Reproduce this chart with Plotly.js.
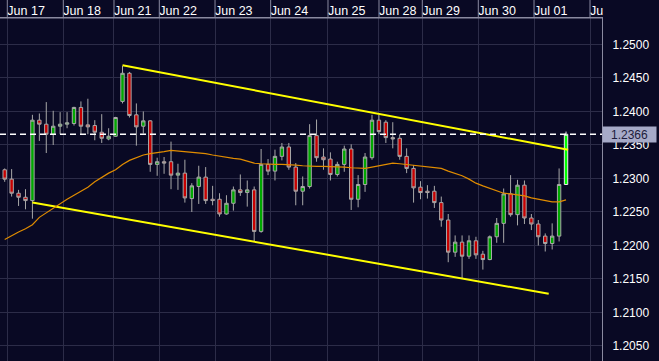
<!DOCTYPE html>
<html><head><meta charset="utf-8">
<script src="https://cdn.plot.ly/plotly-3.0.1.min.js"></script>
<style>html,body{margin:0;padding:0;background:#090924;} #chart{width:659px;height:361px;}</style>
</head><body><div id="chart"></div>
<script>
// 3-hour candles, EUR/USD style quotes
const opens = [1.2313,1.2299,1.2278,1.2272,1.2267,1.2387,1.2381,1.2366,1.2378,1.2381,
1.2382,1.2406,1.2380,1.2379,1.2369,1.2359,1.2363,1.2415,1.2457,1.2395,
1.2378,1.2386,1.2321,1.2325,1.2325,1.2305,1.2308,1.2270,1.2288,1.2302,
1.2269,1.2269,1.2247,1.2263,1.2283,1.2279,1.2283,1.2221,1.2321,1.2311,
1.2333,1.2347,1.2317,1.2281,1.2288,1.2364,1.2332,1.2329,1.2306,1.2321,
1.2344,1.2269,1.2291,1.2331,1.2387,1.2384,1.2361,1.2360,1.2333,1.2315,
1.2287,1.2281,1.2281,1.2264,1.2238,1.2190,1.2205,1.2184,1.2207,1.2187,
1.2179,1.2213,1.2233,1.2277,1.2246,1.2290,1.2241,1.2232,1.2214,1.2203,
1.2214,1.2291];
const highs = [1.2315,1.2314,1.2283,1.2284,1.2395,1.2397,1.2414,1.2401,1.2399,1.2399,
1.2407,1.2415,1.2419,1.2387,1.2396,1.2375,1.2392,1.2468,1.2459,1.2412,
1.2400,1.2387,1.2331,1.2332,1.2355,1.2322,1.2328,1.2293,1.2319,1.2317,
1.2289,1.2278,1.2275,1.2288,1.2306,1.2297,1.2288,1.2344,1.2329,1.2343,
1.2353,1.2353,1.2323,1.2303,1.2381,1.2388,1.2345,1.2339,1.2325,1.2349,
1.2351,1.2305,1.2338,1.2395,1.2395,1.2387,1.2384,1.2366,1.2345,1.2320,
1.2296,1.2290,1.2289,1.2273,1.2247,1.2215,1.2215,1.2215,1.2213,1.2192,
1.2215,1.2241,1.2285,1.2305,1.2298,1.2297,1.2247,1.2238,1.2218,1.2233,
1.2315,1.2370];
const lows = [1.2295,1.2273,1.2259,1.2254,1.2240,1.2356,1.2338,1.2350,1.2366,1.2375,
1.2379,1.2366,1.2366,1.2357,1.2353,1.2357,1.2362,1.2412,1.2391,1.2349,
1.2367,1.2310,1.2304,1.2307,1.2284,1.2283,1.2264,1.2250,1.2262,1.2262,
1.2260,1.2243,1.2246,1.2252,1.2274,1.2258,1.2206,1.2219,1.2305,1.2297,
1.2327,1.2313,1.2260,1.2260,1.2285,1.2325,1.2313,1.2297,1.2303,1.2310,
1.2253,1.2257,1.2280,1.2328,1.2366,1.2353,1.2345,1.2328,1.2308,1.2264,
1.2269,1.2270,1.2256,1.2228,1.2175,1.2183,1.2151,1.2180,1.2180,1.2164,
1.2178,1.2204,1.2204,1.2243,1.2230,1.2232,1.2223,1.2200,1.2191,1.2194,
1.2206,1.2291];
const closes = [1.2299,1.2278,1.2272,1.2267,1.2387,1.2381,1.2366,1.2378,1.2381,1.2383,
1.2406,1.2378,1.2377,1.2369,1.2360,1.2363,1.2391,1.2457,1.2394,1.2377,
1.2386,1.2321,1.2325,1.2323,1.2305,1.2308,1.2271,1.2289,1.2302,1.2267,
1.2267,1.2247,1.2263,1.2283,1.2279,1.2283,1.2221,1.2321,1.2311,1.2333,
1.2347,1.2317,1.2281,1.2288,1.2364,1.2331,1.2328,1.2306,1.2321,1.2344,
1.2269,1.2291,1.2332,1.2387,1.2370,1.2361,1.2359,1.2333,1.2315,1.2286,
1.2279,1.2279,1.2264,1.2238,1.2190,1.2205,1.2184,1.2207,1.2186,1.2179,
1.2213,1.2233,1.2277,1.2246,1.2290,1.2241,1.2232,1.2213,1.2203,1.2214,
1.2291,1.2366];
const movingAvg = [1.2209,1.2215,1.2220,1.2225,1.2231,1.2242,1.2249,1.2256,1.2262,1.2269,
1.2275,1.2281,1.2287,1.2295,1.2302,1.2308,1.2313,1.2321,1.2327,1.2331,
1.2335,1.2337,1.2338,1.2340,1.2342,1.2341,1.2341,1.2340,1.2339,1.2337,
1.2335,1.2333,1.2331,1.2330,1.2329,1.2326,1.2323,1.2322,1.2321,1.2321,
1.2321,1.2321,1.2320,1.2319,1.2318,1.2318,1.2318,1.2318,1.2317,1.2317,
1.2316,1.2316,1.2315,1.2317,1.2319,1.2321,1.2323,1.2322,1.2321,1.2320,
1.2319,1.2317,1.2316,1.2315,1.2311,1.2308,1.2304,1.2299,1.2293,1.2289,
1.2285,1.2281,1.2278,1.2277,1.2276,1.2274,1.2271,1.2269,1.2266,1.2265,
1.2265,1.2268];
const upperTrendX = [17, 81.3];
const upperTrendY = [1.2469, 1.2343];
const lowerTrendX = [4, 78.5];
const lowerTrendY = [1.2264, 1.2128];
const currentPrice = 1.2366;
const dayTickVals = [0.375, 8.456, 15.77, 22.31, 30.35, 38.38, 46.65, 54.01, 60.26, 68.34, 76.38, 84.46];
const dayTickText = ['Jun 17','Jun 18','Jun 21','Jun 22','Jun 23','Jun 24','Jun 25','Jun 28','Jun 29','Jun 30','Jul 01','Ju'];
const priceTickVals = [1.205,1.210,1.215,1.220,1.225,1.230,1.235,1.240,1.245,1.250];

const BG = '#090924';
const GRID = '#2c2c48';
const AXL = '#8a8aa0';
const FONT = 'Liberation Sans, Arial, sans-serif';

const n = opens.length;
const idx = opens.map((_, i) => i);
const xRange = [-0.678, 86.19];
const bandTop = 1 + 18 / 343;

const candles = {
  type: 'candlestick', xaxis: 'x', yaxis: 'y',
  x: idx.slice(0, n - 1), open: opens.slice(0, n - 1), high: highs.slice(0, n - 1),
  low: lows.slice(0, n - 1), close: closes.slice(0, n - 1),
  increasing: {line: {color: '#a8a8a8', width: 1}, fillcolor: '#00a800'},
  decreasing: {line: {color: '#a8a8a8', width: 1}, fillcolor: '#c80000'},
  whiskerwidth: 0, hoverinfo: 'skip'
};
const lastCandle = {
  type: 'candlestick', xaxis: 'x', yaxis: 'y',
  x: idx.slice(n - 1), open: opens.slice(n - 1), high: highs.slice(n - 1),
  low: lows.slice(n - 1), close: closes.slice(n - 1),
  increasing: {line: {color: '#e8e8e8', width: 1}, fillcolor: '#00ff00'},
  decreasing: {line: {color: '#e8e8e8', width: 1}, fillcolor: '#00ff00'},
  whiskerwidth: 0, hoverinfo: 'skip'
};
const ma = {
  type: 'scatter', mode: 'lines', xaxis: 'x2', yaxis: 'y',
  x: idx, y: movingAvg, line: {color: '#e08c00', width: 1.2}, hoverinfo: 'skip'
};
const upper = {
  type: 'scatter', mode: 'lines', x: upperTrendX, y: upperTrendY,
  line: {color: '#ffff00', width: 2}, hoverinfo: 'skip'
};
const lower = {
  type: 'scatter', mode: 'lines', x: lowerTrendX, y: lowerTrendY,
  line: {color: '#ffff00', width: 2}, hoverinfo: 'skip'
};

// day separators in the date band above the plot
const separators = dayTickVals.map(v => ({
  type: 'line', xref: 'x', yref: 'paper', x0: v, x1: v, y0: 1, y1: bandTop,
  line: {color: AXL, width: 1}
}));

const layout = {
  width: 659, height: 361,
  margin: {l: 0, r: 57, t: 18, b: 0, pad: 0},
  paper_bgcolor: BG, plot_bgcolor: BG,
  showlegend: false,
  font: {family: FONT, color: '#ffffff', size: 12},
  xaxis: {
    range: xRange, side: 'top', tickvals: dayTickVals, ticktext: dayTickText,
    showticklabels: false, ticks: '',
    showgrid: true, gridcolor: GRID, gridwidth: 1, zeroline: false,
    showline: true, linecolor: AXL, linewidth: 1,
    rangeslider: {visible: false}, fixedrange: true
  },
  xaxis2: {
    range: xRange, side: 'top', overlaying: 'x', tickvals: dayTickVals, ticktext: dayTickText,
    ticks: '', tickangle: 0, showgrid: false, zeroline: false, showline: false,
    ticklabelposition: 'outside right',
    tickfont: {family: FONT, color: '#ffffff', size: 12.5}, fixedrange: true
  },
  yaxis: {
    side: 'right', range: [1.20276, 1.25395], tickvals: priceTickVals, tickformat: '.4f',
    ticks: 'outside', ticklen: 7, tickcolor: BG,
    showgrid: true, gridcolor: GRID, gridwidth: 1, zeroline: false,
    showline: true, linecolor: AXL, linewidth: 1,
    tickfont: {family: FONT, color: '#ffffff', size: 12}, fixedrange: true
  },
  shapes: separators.concat([{
    type: 'line', xref: 'paper', x0: 0, x1: 1, yref: 'y', y0: currentPrice, y1: currentPrice,
    line: {color: '#ffffff', width: 1.5, dash: '6px,4px'}
  }, {
    type: 'line', xref: 'paper', x0: 0, x1: 1, yref: 'paper', y0: 1, y1: 1,
    line: {color: AXL, width: 1}
  }]),
  annotations: [{
    xref: 'paper', x: 1, xanchor: 'left', yref: 'y', y: currentPrice, yanchor: 'middle',
    text: currentPrice.toFixed(4), showarrow: false, bgcolor: '#a6aac8', borderpad: 0,
    width: 53, height: 15, align: 'center',
    font: {family: FONT, color: '#1c1c3c', size: 12}
  }]
};

Plotly.newPlot('chart', [candles, lastCandle, ma, upper, lower], layout, {displayModeBar: false, staticPlot: true});
</script></body></html>
